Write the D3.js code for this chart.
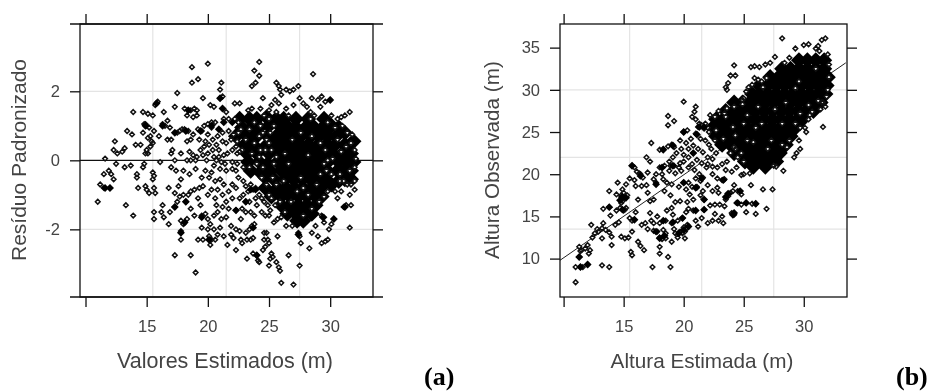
<!DOCTYPE html>
<html><head><meta charset="utf-8">
<script src="https://cdn.jsdelivr.net/npm/d3@7"></script>
<style>html,body{margin:0;padding:0;background:#fff}svg{display:block;filter:blur(.35px)}</style>
</head><body><svg id="c" width="934" height="392"></svg>
<script>
const xTicks=[10,15,20,25,30], xLabels=[15,20,25,30];
const residualTicks=[-2,0,2], observedTicks=[10,15,20,25,30,35];
const residualGridX=[15.5,21.5,27.5], residualGridY=[-2,2];
const observedGridX=[15.5,21.5,27.5], observedGridY=[13.5,22,30];
const labelColor="#444";
const fitLine=[[9.7,9.8],[33.5,33.2]];
const residualDense=[
[22.6,1.2],[23.4,1.2],[24,1.2],[24.8,1.25],[25.6,1.2],[26.2,1.2],[27.2,1.2],[28.2,1.2],[29.5,1.2],
[22.8,.95],[23.6,.95],[24.2,.95],[25,1],[26,.95],[26.6,.95],[27.2,.95],[28,.95],[28.7,.95],[29.4,.95],[30.1,1],[30.7,.95],
[22.3,.7],[23.2,.7],[24,.7],[24.9,.7],[25.6,.7],[26.3,.7],[27,.7],[27.6,.7],[28.4,.7],[29.1,.7],[29.8,.7],[30.5,.7],[31.2,.8],
[23,.45],[23.7,.45],[24.7,.4],[25.4,.45],[26.1,.45],[26.8,.45],[27.5,.45],[28.2,.45],[29,.45],[29.7,.45],[30.4,.45],[31.2,.45],[31.9,.55],
[23.2,.2],[24,.2],[25,.2],[25.8,.2],[26.6,.2],[27.3,.2],[28,.2],[28.7,.2],[29.4,.2],[30.2,.2],[31,.2],[31.7,.2],
[23.3,-.05],[24.2,-.05],[24.9,-.1],[25.7,-.05],[26.3,-.05],[27,-.05],[27.7,-.05],[28.4,-.05],[29.1,-.05],[29.8,-.05],[30.7,-.05],[31.5,-.05],[31.9,-.05],
[23.5,-.3],[24.3,-.35],[25.1,-.3],[26,-.3],[26.7,-.3],[27.4,-.3],[28.1,-.3],[28.8,-.3],[29.4,-.3],[29.9,-.35],[30.6,-.3],[31.2,-.3],[31.7,-.3],
[24.7,-.5],[25.4,-.55],[26.3,-.55],[27,-.55],[27.7,-.55],[28.4,-.55],[29.1,-.55],[29.5,-.55],[30.1,-.7],[30.7,-.6],[31.2,-.55],[31.7,-.55],
[24.7,-.8],[25.7,-.8],[26.4,-.8],[27.1,-.8],[27.8,-.8],[28.5,-.8],[29.2,-.8],
[25.2,-1.05],[26,-1.05],[26.7,-1.05],[27.4,-1.05],[28.1,-1.05],[28.8,-1.05],[29.3,-1.05],
[26,-1.3],[26.7,-1.3],[27.4,-1.3],[28.1,-1.3],[28.8,-1.3],
[26.5,-1.55],[27.2,-1.55],[27.9,-1.55],[28.5,-1.55],[27.3,-1.75],[27.8,-1.75]];
const residualClumps=[[21.2,1.5],[21.3,1.1],[20.9,.9],[22,1.1],[15.8,1.65],[14.9,1],[16.3,1],[17.3,.8],[18.2,.85],[18.4,1.45],[21,1.8],[19.5,-1.65],[18.1,-1.8],[17.8,-2.1],[20.1,-2.3],[23.7,-1.95],[24,-2.75],[27.4,-2.15],[30.3,-1.7],[29.4,-1.65],[31.2,-1.35],[30,1.75],[11.6,-.8],[12,-.8],[18.2,-1.2],[17.3,-1.35],[23.1,-1.2],[23.5,-.85],[23.9,-.85],[22.3,-1.45],[19.4,.85],[20.3,1]];
const residualPoints=[
[18.7,2.7],[20,2.8],[24.2,2.85],[23.8,2.6],[24.2,2.45],[18.7,2.25],[19.2,2.35],[23.9,2.25],[23.6,2.15],[21.1,2.25],[21,2.05],[25.6,2.25],[25.8,2.15],[25.9,2.05],[26.4,2.05],[26.7,2],[27,2.05],[27.4,2.15],[28.6,2.5],[17.5,1.95],[19.6,1.8],[24.5,1.8],[26,1.9],[28.5,1.8],[29,1.75],[29.3,1.85],
[11,-1.2],[11.2,-.7],[11.5,-.8],[12,-.8],[11.6,.05],[11.5,-.4],[11.9,-.3],[12.1,-.4],[12.3,-.55],[12.5,-.1],[12.4,.55],[12.3,.3],[12.6,.2],[13,.25],[13.2,.35],[13.2,-.2],[13.7,-.15],[13.3,-1.3],[13.9,-1.6],[14.2,-.4],[14.3,-.8],[14.2,-.5],[13.4,.85],[13.8,.75],[13.9,1.4],[14.1,.45],[14.5,.45],[14.7,.8],[14.7,1.4],[15.1,1.35],[14.9,1.05],[15.2,.95],[15.5,1.3],[15.8,1.65],
[15.9,1.7],[15.7,1.6],[15,1],[14.8,1.05],[15.3,.7],[15.1,.65],[15.4,.55],[15.6,.85],[15.3,.4],[15.5,.5],[15,.3],[14.9,.2],[15.1,.2],[14.8,-.1],[14.7,-.2],[15.5,-.35],[15.6,-.45],[15.5,-.55],[14.9,-.75],[15,-.85],[15.2,-.95],[15.6,-.8],[15.7,-.95],[15.6,-1.5],[15.6,-1.7],[16.1,-.05],[16.5,1],[16.4,1.4],[16.7,1.15],[16.3,1.05],[16.9,.95],[17.3,1.55],[16.7,.6],[17,.6],[16,.7],[17,.2],[17.1,.3],[17,-.2],[17.4,-.3],[17.3,0],[17.5,.8],[17.7,.85],[17.9,.9],[18.1,.9],[18.4,.85],[17.8,.2],[18.1,1.5],[18.4,1.45],[18.6,1.45],[18.9,1.5],[18.3,1.3],[18.8,1.25],[19.1,1.3],[19.1,1.45],[18.6,.6],[18.3,.55],[18.8,.75],[19.2,.9],[19.5,.85],[19.7,1],[20,1.05],[20.3,1.1],[20.2,1.6],[20.5,1.55],[20.3,.95],[20.6,1.1],[21.2,1.85],[21,1.8],[21.2,1.5],[21.5,1.4],[21.3,1.2],[21.7,1.2],[22.2,1.65],[22.6,1.65],[22.2,1.2],[22.5,1.1],[20,.75],[19.8,.55],[20.4,.6],[20.8,.7],[21.2,.8],[21.5,.5],[21.9,.6],[18.5,.25],[18.8,.15],[19.1,.1],[19.4,.3],[19.7,.4],[20,.2],[20.4,.3],[20.7,.45],[20.9,.1],[21.3,.15],[21.6,.2],[22,.3],[22.3,.4],[22.6,.25],[18.3,0],[18.6,0],[19,0],[19.9,0],[20.7,0],[21.1,-.05],[21.4,-.1],[22,-.05],[22.4,-.1],
[17.8,-.55],[18,-.3],[17.6,-.75],[17.3,-.95],[17.5,-1.2],[17.3,-1.35],[16.3,-1.3],[16.2,-1.5],[16.8,-.8],[16.9,-1.5],[16.8,-1.85],[16.4,-1.65],[17.7,-1.05],[18,-1],[18.2,-1.2],[18.4,-1],[18.6,-.9],[18.5,-.4],[19,-.25],[18.9,-.85],[19.2,-1.1],[19.4,-1.3],[18.6,-1.4],[18.9,-1.6],[17.8,-1.75],[18,-1.85],[18.3,-1.7],[19.5,-1.6],[19.8,-1.55],[20,-1.7],[20.5,-1.6],[20.2,-1.85],[20,-2],[20.1,-2.2],[20.3,-2.3],[20.2,-2.45],[19.2,-2.3],[19.6,-2.3],[19.5,-1.95],[17.8,-2.05],[17.8,-2.3],[17.3,-2.75],[18.6,-2.75],[19,-3.25],[20.6,-2.3],[21.3,-2.2],[21.6,-2.45],[22.3,-2],[22.3,-2.6],[22.7,-2.3],[22.8,-2.4],[23.1,-2.1],[23.4,-2],[23.6,-1.9],[23.8,-1.85],[23.2,-2.3],[23.5,-2.3],[23.7,-2.25],[23.2,-2.85],[23.7,-2.7],[24,-2.75],[24.1,-2.9],[24.2,-2.95],[24.6,-2.1],[24.8,-2.1],[24.6,-2.3],[24.9,-2.3],[24.5,-2.6],[24.7,-2.5],[25,-2.4],[25.2,-2.7],[25.1,-2.85],[25.3,-2.8],[25,-3.05],[25.6,-2.95],[25.8,-3.1],[25.9,-3.2],[25.7,-2.2],[26,-3.55],[26.6,-2.75],[27,-3.6],[27.5,-3.05],[28.3,-2.55],[27.5,-2.2],[27.6,-2.4],[27.4,-2.1],[28.5,-2.1],[29,-2.2],[29.3,-2.4],[29.6,-2.35],[29.8,-2.3],[29.9,-2],[30.1,-1.85],[30.3,-1.7],[29.3,-1.6],[29.5,-1.65],[28.8,-1.9],[29.5,-1.8],[31.6,-1.95],[31.1,-1.35],[31.3,-1.3],[31.7,-1.3],[30.6,-1.1],[32,-.85],[31.6,-1],[25,-1.6],[25.4,-1.8],[25.7,-1.7],[26,-1.65],[26.4,-1.9],[26.9,-1.9],
[20.1,-.5],[20.3,-.35],[20.6,-.6],[19.5,-.5],[19.8,-.3],[19.3,-.8],[20,-1],[20.6,-1.1],[21,-.55],[21.3,-.7],[21.7,-.9],[22,-.7],[22.3,-.8],[22.5,-.5],[21.2,-1],[21.5,-1.2],[21.7,-1.4],[21.1,-1.7],[21.5,-1.65],[21.9,-1.9],[22.3,-1.45],[22.7,-1.7],[23.1,-1.2],[23.5,-1.5],[23.7,-.85],[23.9,-.8],[23.5,-.7],[24.2,-1],[24.4,-1.5],[24,-1.3],[22.9,-.6],[23.1,-.75],[24.4,-.5],[24.5,-.2],[24.7,.3],[24.5,.8],[24.6,1.3],[25,1.2],[25.2,1.6],[25.5,1.75],[25.8,1.65],[26.4,1.5],[27,1.6],[27.5,1.8],[27.8,1.65],[28.1,1.55],[28.4,1.4],[28.7,1.3],[29.2,1.55],[29.6,1.7],[30,1.75],[30.1,1.3],[30.6,1.2],[30.9,1.25],[31.2,1.3],[31.6,1.4],[31,1],[31.4,.8],[31.8,.75],[32,.3],[32.1,.05],[32,-.2],[32,-.6],[31.7,-.7],[31.4,-.7],[30.8,-.6],[30.4,-.9],[30.9,-.9],[29.8,-.9],[30.1,-.4],[29.7,-.3],[29.5,-.1],[25,.5],[24.8,-.7],[25,-1],[25.2,-1.1],[24.3,1.5],[23.3,1.45],[23.6,1.5],[22.7,.9],[22.4,.2],[22.9,-.2],[24.6,-1.2],[24.4,-1.1],
[19.3,.6],[19.6,.15],[20.1,.45],[20.5,.1],[20.9,.3],[21.2,.55],[21.7,.85],[22.1,.75],[22.4,.55],[22,-.25],[21.5,-.3],[21,-.25],[20.5,-.15],[22.3,-.3],[19.6,-.75],[20.3,-.85],[20.8,-.85],[21.2,-1.35],[20.8,-1.5],[20.7,-1.3],[22,-1.1],[22.6,-1.1],[22.9,-1],[23.3,-.9],[23.8,-1.6],[23.9,-1.1],[22.8,-1.4],[23.1,-1.5],[23.4,-1.2],[24.7,-1.6],[24.9,-1.3],[25.1,-1.45],[20.5,-2],[21,-1.95],[21.9,-2.15],[22.1,-2.25],[22.6,-2.05],[20.8,-2.15],
[27.6,.8],[26.9,.6],[28.5,.7],[29.2,.5],[29.6,.3],[29.8,0],[28.2,.15],[26.6,-.1],[26.2,-.6],[27.6,-.5],[27.8,-.8],[28.2,-1],[27.3,-.9],[26.8,-1.2],[28.9,-.7],[30.2,.05],[30.6,.6],[30.9,.25],[30.8,-.4],[31.3,.4],[29.2,-.4],[26.3,.2],[25.6,.1],[25.2,.3],[25.4,-.1],[25.3,-.5],[25.6,-.7],[25.1,.8],[25.4,1],[24.8,.6],[24.3,.3],[24.2,.1],[24,-.1],[23.6,.2],[23.4,-.2],[23.8,.5],[24.2,.7],[24.3,1],[23.8,1.1],[23.4,.9],[23.1,.6],[22.8,.3],[22.5,.8],[26.6,1.3],[25.6,1.4],[25,1.45],[28.4,1.2],[29.8,1.1],[30.4,.95],[31.7,.5],[31.6,-.3],[31.1,-.6],[25.9,-1.2],[25.5,-1.3],[28.5,-1.4],[29.1,-1.2],[29.5,-1.05],[26.3,-1.5],[27.8,-1.6]];
const observedDense=[
[29.6,33.5],[30.3,33.5],[31,33.5],[31.7,33.5],
[28.2,32.5],[28.9,32.5],[29.6,32.5],[30.3,32.5],[31,32.5],[31.7,32.5],
[27.2,31.5],[27.9,31.5],[28.6,31.5],[29.3,31.5],[30,31.5],[30.7,31.5],[31.4,31.5],[32,31.5],
[26.3,30.5],[27,30.5],[27.7,30.5],[28.4,30.5],[29.1,30.5],[29.8,30.5],[30.5,30.5],[31.2,30.5],[31.9,30.5],
[25.7,29.5],[26.3,29.5],[27,29.5],[27.7,29.5],[28.4,29.5],[29.1,29.5],[29.8,29.5],[30.5,29.5],[31.2,29.5],[31.8,29.5],
[24.2,28.5],[24.9,28.5],[25.5,28.5],[26.1,28.5],[26.8,28.5],[27.5,28.5],[28.2,28.5],[28.9,28.5],[29.6,28.5],[30.3,28.5],[31,28.5],[31.4,28.5],
[23.5,27.5],[24.2,27.5],[24.8,27.5],[25.4,27.5],[26,27.5],[26.7,27.5],[27.4,27.5],[28.1,27.5],[28.8,27.5],[29.5,27.5],[30.2,27.5],[30.8,27.5],
[22.7,26.5],[23.3,26.5],[24,26.5],[24.7,26.5],[25.3,26.5],[26,26.5],[26.7,26.5],[27.4,26.5],[28.1,26.5],[28.8,26.5],[29.5,26.5],[29.9,26.5],
[22.4,25.5],[23.1,25.5],[23.8,25.5],[24.5,25.5],[25.2,25.5],[25.9,25.5],[26.6,25.5],[27.3,25.5],[28,25.5],[28.7,25.5],[29.3,25.5],
[22.7,24.5],[23.4,24.5],[24.1,24.5],[24.8,24.5],[25.5,24.5],[26.2,24.5],[26.9,24.5],[27.6,24.5],[28.3,24.5],[28.9,24.5],
[23.2,23.5],[23.9,23.5],[24.6,23.5],[25.3,23.5],[26,23.5],[26.7,23.5],[27.4,23.5],[28.1,23.5],[28.5,23.5],
[24.2,22.5],[24.9,22.5],[25.6,22.5],[26.3,22.5],[27,22.5],[27.7,22.5],[28,22.5],
[25.1,21.5],[25.8,21.5],[26.5,21.5],[27.2,21.5],[27.7,21.5],[25.8,20.9],[26.8,20.9]];
const observedClumps=[[15.7,21],[16.4,19.8],[17.7,18.8],[18.3,22.9],[18.2,20.8],[19.1,23.4],[20,25],[20.8,22.5],[21.3,25.6],[21.7,25.6],[21.1,24.7],[14.9,17.3],[14.7,16.9],[15.2,17.2],[13.8,16.1],[14.9,15.8],[15.9,14.6],[17.7,13.2],[18,12.4],[18.4,12.7],[18.3,14.5],[19.1,14.3],[19.9,14.8],[19.6,13],[20,13.4],[20.4,13.8],[21,15.7],[21.7,15.8],[21.7,17],[21,18.4],[20,19],[19.1,21],[11.3,10.2],[11.4,9],[12,9.3],[24.2,15.4],[24.1,15.2],[24.5,16.6],[25.2,16.6],[26,16.5],[23.5,17.3],[23.7,17.7],[23.3,19.3],[24.7,18],[21.5,19.5]];
const observedPoints=[
[11,7.2],[11,9],[11.4,9],[11.6,9],[12,9.3],[11.3,10.2],[11.5,11],[11.3,11.4],[11.8,11.2],[12,11.6],[12.1,10.6],[12.2,11],[13.2,9.2],[13.8,9],[12.4,12.5],[12.6,13],[12.3,14],[12.9,13.2],[13.2,13.6],[13.3,14.2],[13.2,12.4],[14,12.6],[13.8,13.1],[13.9,15.1],[14.3,14],[14.6,14.3],[13.3,15.9],[13.8,16.1],[14.4,15.7],[14.7,16],[15,15.7],[13.8,18],[14.4,17.6],[14.5,19],[14.8,17.3],[15.1,17.2],[15.3,17.5],[14.9,16.8],[14.9,18.2],[15.2,18.8],[15.5,19.5],[15.9,19.3],[15.7,21],[15.9,20.8],[16.4,20],[16.6,19.6],[16,18.6],[16.5,18.6],[16.9,18.7],[17,17.8],[17.2,16.8],[17.5,17],[16.2,17],[16,15.5],[15.5,14.8],[15.7,14.5],[15.7,13.2],[15.4,12.5],[14.8,12.6],[15.1,12.4],[14,11.6],[15.6,10.8],[15.7,10.4],[16.2,12],[16.4,11.5],[16.7,11],[17.4,9],[18,10.6],[18,11.4],[18.7,10.2],[18.9,9],[17,13.5],[17.5,13.3],[16.8,14.2],[17.3,14.5],[17.8,15],[17.2,15.4],[18,14.2],[18,12.5],[18.3,12.6],[18.5,13],[18.5,14.5],[18.6,15.7],[19,16],[19.1,15.2],[19.2,13.5],[19,12],[19.5,12.5],[19.5,14.5],[19.9,14.8],[19.9,13],[20.2,13.5],[20.1,12.4],[20.3,14],[20.2,15.5],[20.8,15.7],[21,14.5],[21.2,13.8],
[20,28.6],[18.7,26.9],[19.2,26.3],[18.7,25.8],[21,28],[20.9,27.4],[20.7,26.8],[21,26.5],[17.3,23.7],[16.9,22],[17.2,21.5],[18,22.9],[18.3,23],[18.7,23.3],[19,23.5],[19.7,24],[20,25],[20.3,25.2],[18,20.8],[18.4,21],[18.8,21.5],[19.2,21],[19.6,20.8],[20,21.5],[20.4,22],[20.8,22.5],[19.4,22.5],[19.8,23],[20.2,23.7],[20.6,24.2],[21,24.8],[21.2,25.6],[21.5,25.8],[21.8,26],[22,25.5],[21.4,24.2],[21.8,24],[22.1,23.5],[21.2,23],[21.6,22.6],[22,22],[22.4,21.8],[22.7,22.5],[22.3,23],[22.6,24],[22.2,27],[22.6,26.8],[20.4,20.8],[20.9,20.5],[21.3,20],[21.6,19.6],[21,19.5],[20.4,19],[20,19],[19.6,18.5],[18.6,19],[18.3,19.4],[19,18.8],[18.4,18],[18.9,17.5],[19.3,16.7],[20.2,18.2],[20.5,17.6],[20.3,16.7],[20.8,17],[21.1,18.5],[21.4,17.5],[21.7,17],[21.7,15.8],[21.5,14.8],[22,14.2],[22.4,14.5],[22.6,15.3],[22.9,14.5],[23.2,15],[23.3,14.2],[22.2,16.3],[22.6,16.4],[23,16.4],[23.4,16.2],[23.5,17],[23.7,17.4],[23.9,17.8],[24.1,18],[22.9,17.8],[22.4,18],[22,18.7],[22.8,19.5],[23.2,19.3],[23.4,19.4],[23.5,20.5],[24,20.3],[24.4,20.8],[24.8,19.9],[25,20],[25.5,20.1],[25.6,18.7],[24.2,18.7],[24.5,18],[24.8,17.6],[24.4,16.6],[24.8,16.4],[25.2,16.6],[25.7,16.5],[26,16.5],[26,15.3],[26.9,15.9],[25.2,15.5],[24,15.4],[24.2,15.2],[26.6,18.2],[27.4,18.2],
[24.2,32.9],[23.9,31.7],[24.3,31.7],[23.7,30.8],[23.5,30.3],[23.6,30],[25.6,32.7],[25.9,32.8],[26.3,32.7],[26.8,33],[27.2,33.2],[27.6,33.9],[28.2,36.1],[28.4,33.2],[28.8,33.8],[29.3,34.9],[30,35.3],[30.4,35.4],[31,34.9],[31.2,35.2],[31.5,35.9],[31.8,36.1],[31.3,34.6],[32,34.2],[32.1,33],[32.1,31.5],[32,30],[31.9,29.2],[31.6,28.5],[31.8,28],[31.4,27.7],[31.2,28.7],[31.6,25.6],[30.5,27],[30.4,26.5],[30.1,25.5],[30.2,25],[29.7,25.5],[29.6,24],[29.4,22.5],[29.2,22],[29.7,23],[28.8,24],[28.6,23.2],[28.2,23.5],[27.5,21],[27.7,20.9],[28.3,20.4],[25,21.5],[24.5,22],[24.3,23],[23.9,22.5],[23.6,27.8],[23.4,27.2],[22.9,27.5],[24.2,28],[24.9,28.3],[25,29],[25.2,29.8],[25.4,30.3],[25.7,30.6],[25.9,31.4],[26.2,31.2],[26.5,31],[26.9,31.4],
[27.3,24],[25.3,24],[26,25.5],[27,23],[26.2,28],[25.3,27],[24.1,25.6],[23.3,24.2],[25,26],[27.6,27.7],[28.5,28.5],[28.2,26],[29.3,26],[29.7,27.2],[30.4,28.2],[31,32.5],[29.6,31],[29.3,30.2],[24.8,22.5],[24.2,23.2],[26.5,26],[25.8,23.8],[23.5,26.8],[22.7,25.2],[24.9,28.8],[26.6,30.3],[31.5,28.5],[30.7,27.4],
[17.7,19],[17.5,19.4],[17,20.2],[17.7,20],[18.2,20],[18.8,20.4],[19.3,20.1],[19.8,20.4],[20.4,23],[20.8,23.4],[19.1,22],[20,22.3],[19.7,21.3],[20.7,21.2],[21.1,21.7],[21.5,21.3],[21.9,20.8],[22.4,20.9],[22.8,20.8],[23.2,21.2],[23.6,21.5],[22,21.2],[22.4,20],[22.8,18.4],[21.4,19.2],[21.1,18.4],[21.6,18],[20.7,18.5],[20.4,15.9],[19.7,16.8],[19,14.2],[18.3,13.4],[17.8,13.2],[17.5,14.2],[19.3,13],[19.7,13.2],[20.1,13.2],[20,13.7],[18.2,12.3],[18.5,12.4],[16.5,14],[14.8,17.5],[15,17.8],[15.2,16],[15.1,15.8],[14.8,16.6],[12.8,13.5],[11.4,10.9],[13.5,13.4],[16.3,20.1],[16.1,20.3],[19.2,23.2],[18.9,21],[21.7,25.4],[22.1,25],[21.3,26],[24.3,24.6]];

const svg=d3.select("#c");
const diamond=d3.symbol().type(d3.symbolDiamond2).size(14);
const coreMark=d3.symbol().type(d3.symbolDiamond2).size(165);
const clumpMark=d3.symbol().type(d3.symbolDiamond2).size(40);
function panel(o){
  const x=d3.scaleLinear().domain(o.xDomain).range([o.left,o.right]);
  const y=d3.scaleLinear().domain(o.yDomain).range([o.bottom,o.top]);
  const place=d=>`translate(${x(d[0])},${y(d[1])})`;
  const g=svg.append("g");
  g.selectAll(".gx").data(o.gridX).join("line").attr("x1",d=>x(d)).attr("x2",d=>x(d)).attr("y1",o.top).attr("y2",o.bottom).attr("stroke","#e4e4e4").attr("stroke-width",1.2);
  g.selectAll(".gy").data(o.gridY).join("line").attr("y1",d=>y(d)).attr("y2",d=>y(d)).attr("x1",o.left).attr("x2",o.right).attr("stroke","#e4e4e4").attr("stroke-width",1.2);
  if(o.zero) g.append("line").attr("x1",o.left).attr("x2",o.right).attr("y1",y(0)).attr("y2",y(0)).attr("stroke","#111").attr("stroke-width",1.2);
  if(o.fit) g.append("path").attr("d",d3.line().x(d=>x(d[0])).y(d=>y(d[1]))(o.fit)).attr("stroke","#222").attr("fill","none").attr("stroke-width",1);
  g.append("g").selectAll("path").data(o.dense).join("path").attr("d",coreMark).attr("transform",place).attr("fill","#000");
  g.append("g").selectAll("path").data(o.points).join("path").attr("d",diamond).attr("transform",place).attr("fill","#fff");
  g.append("g").selectAll("path").data(o.points).join("path").attr("d",diamond).attr("transform",place).attr("fill","none").attr("stroke","#111").attr("stroke-width",1.5);
  g.append("g").selectAll("path").data(o.clumps).join("path").attr("d",clumpMark).attr("transform",place).attr("fill","#000");
  const tl=10, styleTicks=s=>{s.select(".domain").remove();s.selectAll("line").attr("stroke","#111").attr("stroke-width",1.3);s.selectAll("text").attr("font-family","Liberation Sans").attr("font-size",o.fs).attr("fill",labelColor);};
  g.append("g").attr("transform",`translate(0,${o.bottom})`).call(d3.axisBottom(x).tickValues(xTicks).tickFormat(d=>xLabels.includes(d)?d:"").tickSize(tl).tickPadding(13)).call(styleTicks);
  g.append("g").attr("transform",`translate(0,${o.top})`).call(d3.axisTop(x).tickValues(xTicks).tickFormat("").tickSize(tl)).call(styleTicks);
  g.append("g").attr("transform",`translate(${o.left},0)`).call(d3.axisLeft(y).tickValues(o.yTicks).tickFormat(d=>String(d)).tickSize(tl).tickPadding(10)).call(styleTicks);
  g.append("g").attr("transform",`translate(${o.right},0)`).call(d3.axisRight(y).tickValues(o.yTicks).tickFormat("").tickSize(tl)).call(styleTicks);
  g.append("rect").attr("x",o.left).attr("y",o.top).attr("width",o.right-o.left).attr("height",o.bottom-o.top).attr("fill","none").attr("stroke","#111").attr("stroke-width",1.3);
  if(o.ext)[o.top,o.bottom].forEach(v=>g.append("line").attr("x1",o.left-o.ext).attr("x2",o.right+o.ext).attr("y1",v).attr("y2",v).attr("stroke","#111").attr("stroke-width",1.3));
  g.append("text").attr("x",o.xLabelX).attr("y",368).attr("text-anchor","middle").attr("font-family","Liberation Sans").attr("font-size",o.ls).attr("fill",labelColor).text(o.xLabel);
  g.append("text").attr("transform",`translate(${o.yLabelX},160) rotate(-90)`).attr("text-anchor","middle").attr("font-family","Liberation Sans").attr("font-size",o.yls).attr("fill",labelColor).text(o.yLabel);
  g.append("text").attr("x",o.tagX).attr("y",385).attr("font-family","Liberation Serif").attr("font-weight","bold").attr("font-size",26).attr("fill","#000").text(o.tag);
}
panel({left:80,right:373,top:24,bottom:297,xDomain:[9.55,33.5],yDomain:[-3.96,3.95],points:residualPoints,dense:residualDense,clumps:residualClumps,gridX:residualGridX,gridY:residualGridY,yTicks:residualTicks,zero:true,ext:10,fs:16.5,ls:21.5,yls:21,xLabel:"Valores Estimados (m)",xLabelX:225,yLabel:"Resíduo Padronizado",yLabelX:26,tag:"(a)",tagX:424});
panel({left:560,right:847,top:24,bottom:297,xDomain:[9.7,33.6],yDomain:[5.45,37.8],points:observedPoints,dense:observedDense,clumps:observedClumps,gridX:observedGridX,gridY:observedGridY,yTicks:observedTicks,fit:fitLine,ext:0,fs:16.5,ls:20.7,yls:20.7,xLabel:"Altura Estimada (m)",xLabelX:702,yLabel:"Altura Observada (m)",yLabelX:499,tag:"(b)",tagX:896});
</script></body></html>
